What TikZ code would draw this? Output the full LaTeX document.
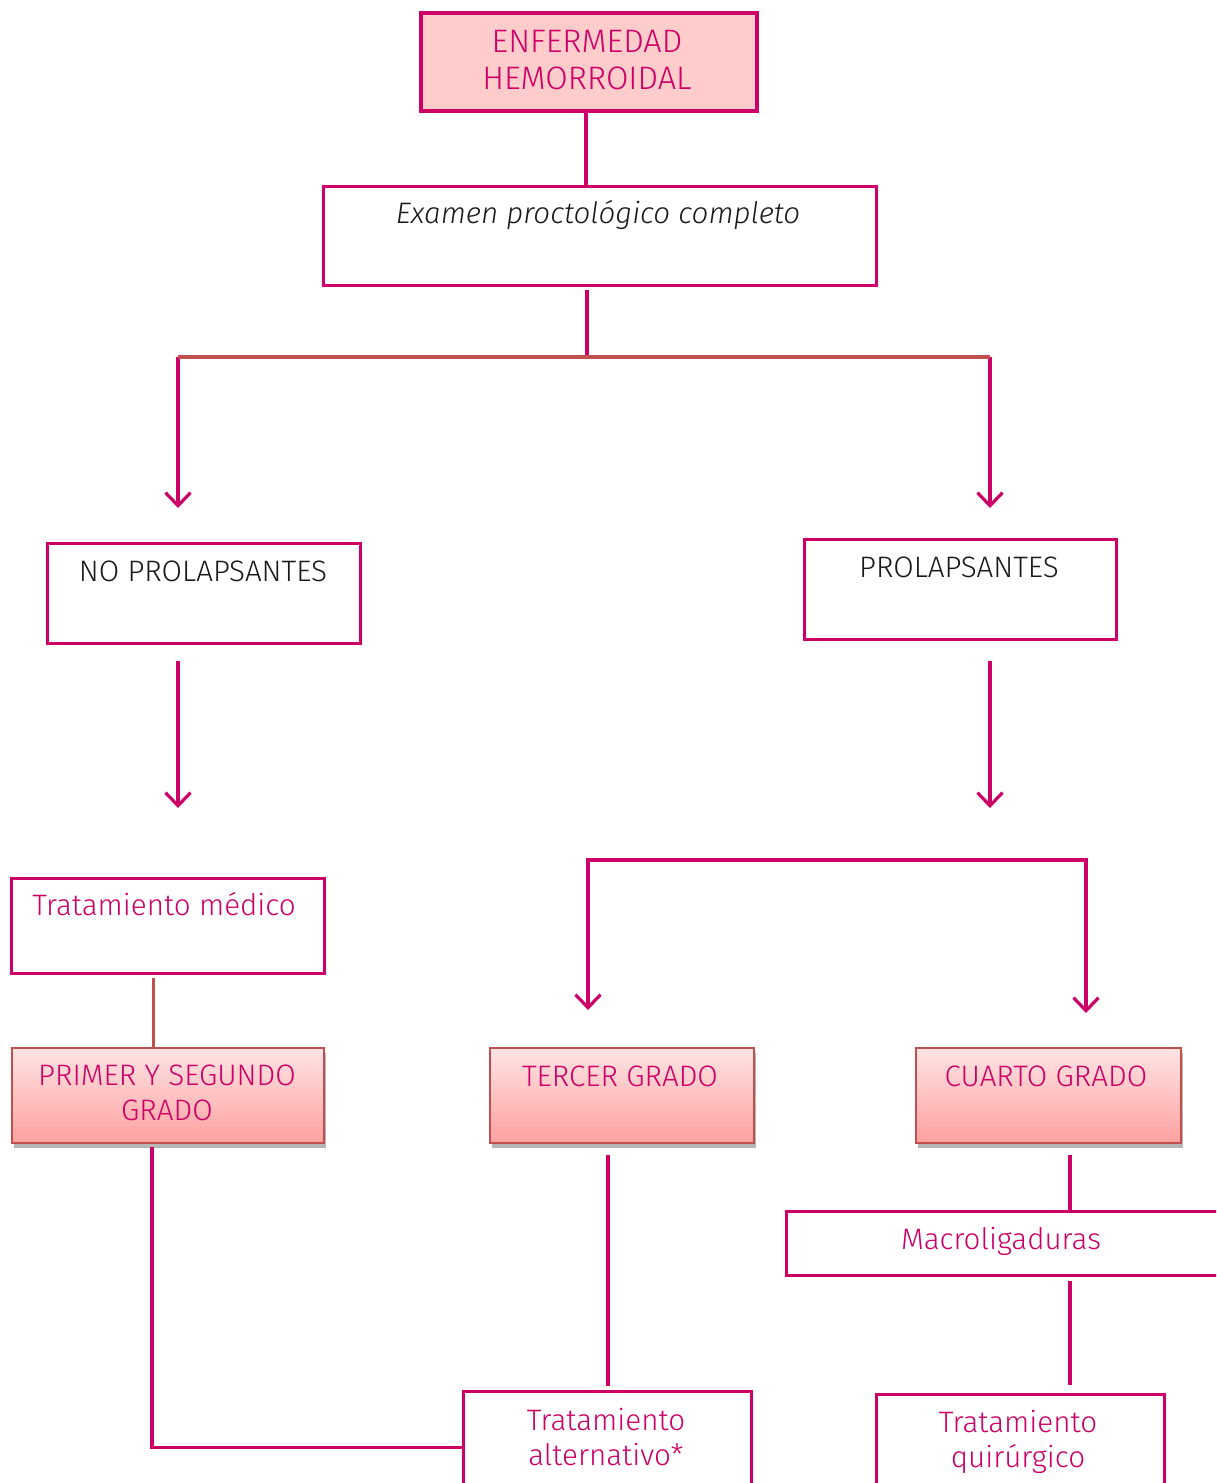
\documentclass[tikz,border=0pt]{standalone}
\usepackage{fontspec}
\setmainfont{Fira Sans Light}[ItalicFont={Fira Sans Light Italic}]
\usetikzlibrary{arrows.meta,shadows}
\definecolor{mag}{RGB}{204,0,102}
\definecolor{brick}{RGB}{192,80,77}
\definecolor{pinkfill}{RGB}{255,204,204}
\definecolor{gradtop}{RGB}{255,228,228}
\definecolor{gradbot}{RGB}{255,160,160}
\definecolor{darktext}{RGB}{25,25,25}
\tikzset{
  every node/.style={font=\fontsize{29.6}{35}\selectfont},
  wbox/.style={draw=mag, line width=2.6pt, fill=white, inner sep=0, anchor=north west},
  topbox/.style={draw=mag, line width=4pt, fill=pinkfill, inner sep=0, anchor=north west},
  gbox/.style={draw=brick, line width=2pt, top color=gradtop, bottom color=gradbot, inner sep=0, anchor=north west,
     drop shadow={shadow xshift=1.5pt, shadow yshift=-4.5pt, opacity=0.4, fill=black!70}},
  lbl/.style={text=mag, inner sep=0, align=center},
  blk/.style={text=darktext, inner sep=0, align=center},
  conn/.style={draw=mag, line width=3.2pt},
  rconn/.style={draw=brick, line width=3.2pt},
  arr/.style={conn, -{Straight Barb[length=13pt,width=25pt]}},
}
\begin{document}
\begin{tikzpicture}[x=1pt,y=-1pt]
\useasboundingbox (0,0) rectangle (1216,1483);
\clip (0,0) rectangle (1216,1483);

% boxes
\node[topbox, minimum width=336, minimum height=98] (ef) at (419,11) {};
\node[wbox, minimum width=553, minimum height=99] (exam) at (322,185) {};
\node[wbox, minimum width=313, minimum height=100] (nop) at (46,542) {};
\node[wbox, minimum width=312, minimum height=100] (pro) at (803,538) {};
\node[wbox, minimum width=313, minimum height=95] (tmed) at (10,877) {};
\node[gbox, minimum width=312, minimum height=95] (primer) at (11,1047) {};
\node[gbox, minimum width=264, minimum height=95] (tercer) at (489,1047) {};
\node[gbox, minimum width=265, minimum height=95] (cuarto) at (915,1047) {};
\node[wbox, minimum width=460, minimum height=64] (macro) at (785,1210) {};
\node[wbox, minimum width=288, minimum height=112] (alt) at (462,1390) {};
\node[wbox, minimum width=288, minimum height=112] (quir) at (875,1393) {};

% texts
\node[lbl, anchor=north, font=\fontsize{32.5}{37.5}\selectfont] (tef) at (587,30) {ENFERMEDAD\\HEMORROIDAL};
\node[blk, anchor=base] (texam) at (598,223) {\itshape Examen proctológico completo};
\node[blk, anchor=base] (tnop) at (203,581) {NO PROLAPSANTES};
\node[blk, anchor=base] (tpro) at (959,577) {PROLAPSANTES};
\node[lbl, anchor=base] (ttmed) at (164,915) {Tratamiento médico};
\node[lbl, anchor=north] (tprimer) at (167,1065) {PRIMER Y SEGUNDO\\GRADO};
\node[lbl, anchor=base] (ttercer) at (620,1086) {TERCER GRADO};
\node[lbl, anchor=base] (tcuarto) at (1046,1086) {CUARTO GRADO};
\node[lbl, anchor=base] (tmacro) at (1001,1249) {Macroligaduras};
\node[lbl, anchor=north] (talt) at (606,1408) {Tratamiento\\alternativo*};
\node[lbl, anchor=north] (tquir) at (1018,1410) {Tratamiento\\quirúrgico};

% helper coordinates
\coordinate (split) at (587,357);
\coordinate (lt) at (178,357);
\coordinate (rt) at (990,357);
\coordinate (bt) at (588,860);
\coordinate (br) at (1086,860);
\coordinate (cx) at (1070,0);

% connectors
\draw[conn] ([xshift=-3pt]ef.south) -- ([xshift=-3pt]ef.south |- exam.north);
\draw[conn, shorten <=3pt] (exam.south -| split) -- (split);
\draw[arr, shorten >=34pt] (lt) -- (nop.north -| lt);
\draw[arr, shorten >=30pt] (rt) -- (pro.north -| rt);
\draw[rconn] (lt) -- (rt);
\draw[arr, shorten <=16pt, shorten >=69pt] (nop.south -| lt) -- (tmed.north -| lt);
\draw[arr, shorten <=20pt, shorten >=52pt] (pro.south -| rt) -- (bt -| rt);
\draw[conn, {Straight Barb[length=13pt,width=25pt]}-{Straight Barb[length=13pt,width=25pt]}, shorten <=37pt, shorten >=34pt]
  (tercer.north -| bt) -- (bt) -- (br) -- (cuarto.north -| br);
\draw[rconn, shorten <=3pt] ([xshift=-14.5pt]tmed.south) -- ([xshift=-14.5pt]tmed.south |- primer.north);
\draw[conn, shorten <=3pt] ([xshift=-16pt]primer.south) |- (alt.west);
\draw[conn, shorten <=11pt, shorten >=4pt] (tercer.south -| 608,0) -- (alt.north -| 608,0);
\draw[conn, shorten <=11pt] (cuarto.south -| cx) -- (macro.north -| cx);
\draw[conn, shorten <=4pt, shorten >=8pt] (macro.south -| cx) -- (quir.north -| cx);
\end{tikzpicture}
\end{document}
